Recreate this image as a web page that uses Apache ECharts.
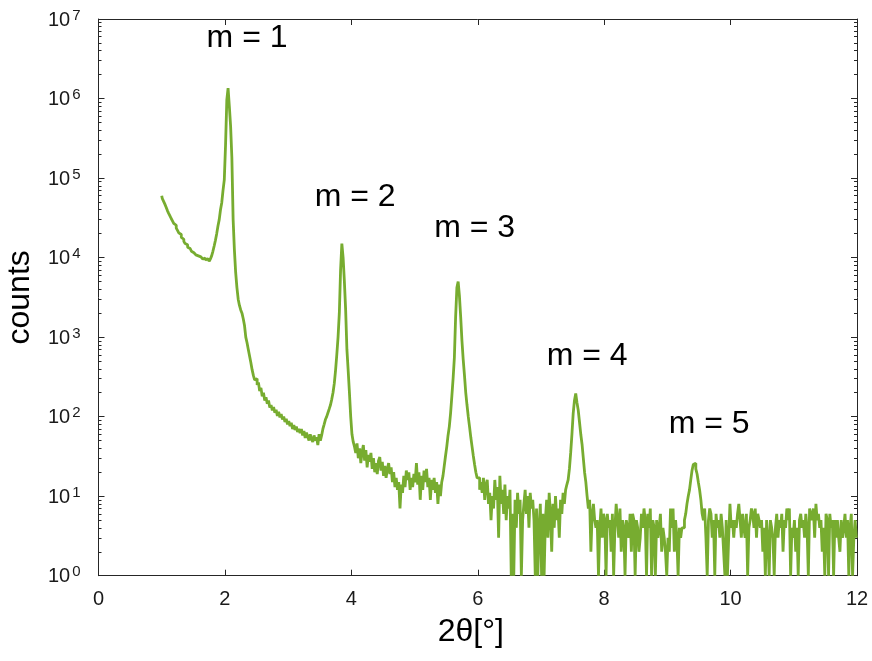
<!DOCTYPE html>
<html><head><meta charset="utf-8">
<script src="https://cdn.jsdelivr.net/npm/echarts@6/dist/echarts.min.js"></script>
<style>html,body{margin:0;padding:0;background:#fff}#c{width:872px;height:661px}</style>
</head><body><div id="c"></div>
<script>
// Sampling grid of the measurement (2θ in degrees)
const thetaStart = 1.00;
const thetaStep = 0.02;
// Counts, one row = 10 samples (0.2°)
const counts = [
  60000, 55000, 51000, 47000, 43000, 39000, 36000, 33500, 31000, 29000, // 1.00
  27000, 25500, 23500, 22000, 20500, 19500, 18000, 17000, 16000, 15000, // 1.20
  14500, 13500, 13000, 12500, 12000, 11500, 11000, 10800, 10300, 10500, // 1.40
  10000, 10200, 9800, 9600, 9900, 9300, 9700, 9200, 9000, 9600,         // 1.60
  10500, 12000, 14000, 16500, 20000, 25000, 30000, 40000, 49000, 70000, // 1.80
  95000, 260000, 960000, 1350000, 800000, 450000, 180000, 30000, 12500, 6500, // 2.00
  4200, 3000, 2500, 2200, 2000, 1700, 1400, 1000, 850, 700,             // 2.20
  580, 480, 390, 330, 290, 300, 250, 270, 210, 230,                     // 2.40
  180, 200, 160, 175, 145, 160, 130, 140, 120, 132,                     // 2.60
  112, 122, 102, 115, 98, 108, 92, 100, 86, 94,                         // 2.80
  80, 88, 76, 84, 70, 78, 68, 75, 64, 70,                               // 3.00
  62, 70, 58, 66, 54, 63, 56, 50, 60, 52,                               // 3.20
  48, 58, 50, 55, 44, 60, 50, 58, 70, 80,                               // 3.40
  92, 100, 112, 125, 140, 165, 200, 260, 380, 600,                      // 3.60
  1000, 2000, 7000, 15000, 10000, 5000, 2200, 700, 380, 200,            // 3.80
  100, 60, 48, 42, 35, 46, 30, 40, 26, 36,                              // 4.00
  44, 28, 38, 23, 33, 27, 35, 22, 30, 20,                               // 4.20
  26, 19, 28, 31, 21, 27, 18, 24, 17, 22,                               // 4.40
  26, 19, 23, 15, 20, 13, 17, 12, 15, 7,                                // 4.60
  14, 11, 18, 13, 21, 16, 20, 12, 17, 13,                               // 4.80
  19, 15, 26, 14, 20, 9, 18, 12, 21, 15,                                // 5.00
  22, 13, 17, 9, 16, 12, 17, 11, 15, 8,                                 // 5.20
  14, 10, 15, 18, 24, 32, 42, 58, 75, 110,                              // 5.40
  180, 300, 550, 1800, 4200, 5000, 3300, 1800, 900, 520,                // 5.60
  330, 200, 140, 100, 75, 55, 42, 32, 25, 20,                           // 5.80
  17, 17, 12, 15, 11, 17, 9, 14, 16, 8,                                 // 6.00
  11, 5, 10, 7, 16, 9, 13, 3, 18, 8,                                    // 6.20
  12, 6, 14, 5, 10, 7, 12, 1, 6, 1,                                     // 6.40
  9, 4, 11, 6, 9, 1, 5, 8, 12, 6,                                       // 6.60
  10, 4, 11, 7, 9, 5, 1, 7, 1, 4,                                       // 6.80
  8, 1, 6, 1, 5, 9, 3, 11, 6, 2,                                        // 7.00
  8, 4, 10, 5, 7, 3, 9, 6, 11, 8,                                       // 7.20
  12, 14, 16, 22, 35, 60, 110, 160, 196, 150,                           // 7.40
  120, 85, 60, 45, 30, 20, 15, 10, 7, 9,                                // 7.60
  2, 6, 8, 5, 4, 5, 1, 4, 7, 3,                                         // 7.80
  6, 5, 1, 6, 4, 5, 2, 6, 1, 4,                                         // 8.00
  8, 5, 3, 7, 2, 5, 4, 1, 5, 4,                                         // 8.20
  3, 6, 2, 6, 5, 1, 5, 4, 2, 3,                                         // 8.40
  6, 4, 7, 5, 1, 6, 4, 7, 1, 5,                                         // 8.60
  4, 1, 5, 3, 4, 6, 2, 4, 3, 2,                                         // 8.80
  1, 3, 2, 7, 4, 7, 2, 5, 3, 1,                                         // 9.00
  4, 3, 4, 4, 5, 6, 8, 10, 12, 16,                                      // 9.20
  21, 25, 26, 22, 19, 15, 12, 9, 6, 5,                                  // 9.40
  7, 3, 1, 5, 7, 6, 3, 5, 1, 6,                                         // 9.60
  4, 5, 3, 6, 4, 2, 1, 5, 1, 3,                                         // 9.80
  8, 4, 5, 3, 5, 4, 6, 8, 5, 3,                                         // 10.00
  6, 4, 3, 6, 1, 4, 5, 7, 6, 4,                                         // 10.20
  7, 3, 6, 5, 4, 5, 2, 4, 1, 5,                                         // 10.40
  3, 1, 5, 4, 3, 1, 4, 6, 3, 5,                                         // 10.60
  4, 6, 2, 5, 4, 7, 5, 7, 1, 4,                                         // 10.80
  3, 5, 2, 4, 1, 5, 6, 4, 5, 3,                                         // 11.00
  6, 4, 1, 7, 6, 5, 7, 3, 8, 5,                                         // 11.20
  6, 4, 5, 2, 4, 1, 6, 5, 1, 6,                                         // 11.40
  4, 5, 1, 5, 3, 5, 3, 2, 5, 3,                                         // 11.60
  4, 6, 3, 5, 1, 4, 6, 1, 3, 5,                                         // 11.80
  3                                                                     // 12.00
];
const xTicks = [0, 2, 4, 6, 8, 10, 12];
const yDecades = [0, 1, 2, 3, 4, 5, 6, 7];
const peakLabels = ['m = 1', 'm = 2', 'm = 3', 'm = 4', 'm = 5'];
const peakLabelX = [2.35, 4.06, 5.95, 7.73, 9.66];
const peakLabelY = [5.8e6, 5.8e4, 2.36e4, 578, 81];

const FONT = "'Liberation Sans', Arial, Helvetica, sans-serif";
const AX = '#262626';
const GREEN = '#77AC30';

const lineData = counts.map((c, i) => [+(thetaStart + i * thetaStep).toFixed(2), c]);
const annData = peakLabels.map((t, i) => ({ value: [peakLabelX[i], peakLabelY[i]], name: t }));

const yMin = Math.pow(10, yDecades[0]);
const yMax = Math.pow(10, yDecades[yDecades.length - 1]);
const minorVals = [];
for (let d = yDecades[0]; d < yDecades[yDecades.length - 1]; d++) {
  for (let k = 2; k <= 9; k++) minorVals.push(k * Math.pow(10, d));
}

function yAxisBase(pos, showLine, tickLen, custom, showLabel) {
  const tick = { show: true, inside: true, length: tickLen, lineStyle: { color: AX, width: 1 } };
  if (custom) tick.customValues = custom;
  return {
    type: 'log', logBase: 10, min: yMin, max: yMax, interval: 1, position: pos,
    axisLine: { show: showLine, onZero: false, lineStyle: { color: AX, width: 1 } },
    axisTick: tick,
    splitLine: { show: false }, minorTick: { show: false },
    axisLabel: showLabel ? {
      show: true, margin: 18, fontFamily: FONT, color: '#111',
      formatter: v => '{b|10}{s|' + Math.round(Math.log10(v)) + '}',
      rich: {
        b: { fontSize: 20, fontFamily: FONT, color: '#1a1a1a', lineHeight: 22, verticalAlign: 'bottom' },
        s: { fontSize: 15, fontFamily: FONT, color: '#1a1a1a', lineHeight: 22, verticalAlign: 'top', padding: [0, 0, 6, 2] }
      }
    } : { show: false }
  };
}

const yAxes = [
  Object.assign(yAxisBase('left', true, 6, null, true), {
    name: 'counts', nameLocation: 'middle', nameGap: 62, nameRotate: 90,
    nameTextStyle: { fontSize: 32, fontFamily: FONT, color: '#000' }
  }),
  yAxisBase('left', false, 3, minorVals, false),
  yAxisBase('right', true, 6, null, false),
  yAxisBase('right', false, 3, minorVals, false)
];

function xAxisBase(pos, showLabel) {
  return {
    type: 'value', min: xTicks[0], max: xTicks[xTicks.length - 1], interval: xTicks[1] - xTicks[0], position: pos,
    axisLine: { show: true, onZero: false, lineStyle: { color: AX, width: 1 } },
    axisTick: { show: true, inside: true, length: 6, lineStyle: { color: AX, width: 1 } },
    splitLine: { show: false },
    axisLabel: showLabel ? { show: true, margin: 14, fontSize: 20, fontFamily: FONT, color: '#1a1a1a' } : { show: false }
  };
}

const chart = echarts.init(document.getElementById('c'), null, { renderer: 'canvas' });
chart.setOption({
  animation: false,
  backgroundColor: '#fff',
  grid: { left: 98.5, right: 15, top: 19, bottom: 85.3, containLabel: false, outerBoundsMode: 'none' },
  xAxis: [
    Object.assign(xAxisBase('bottom', true), {
      name: '2θ[°]', nameLocation: 'middle', nameGap: 40,
      nameTextStyle: { fontSize: 32, fontFamily: FONT, color: '#000', padding: [0, 14, 0, 0] }
    }),
    xAxisBase('top', false)
  ],
  yAxis: yAxes,
  series: [
    {
      type: 'line', xAxisIndex: 0, yAxisIndex: 0, data: lineData, step: 'middle',
      showSymbol: false, symbol: 'none', clip: true,
      lineStyle: { color: GREEN, width: 2.8 }, itemStyle: { color: GREEN }
    },
    {
      type: 'scatter', xAxisIndex: 0, yAxisIndex: 0, data: annData, symbolSize: 0,
      itemStyle: { opacity: 1 },
      label: { show: true, position: 'inside', formatter: p => p.name, fontSize: 32, fontFamily: FONT, color: '#000', opacity: 1 },
      silent: true
    }
  ]
});
</script></body></html>
